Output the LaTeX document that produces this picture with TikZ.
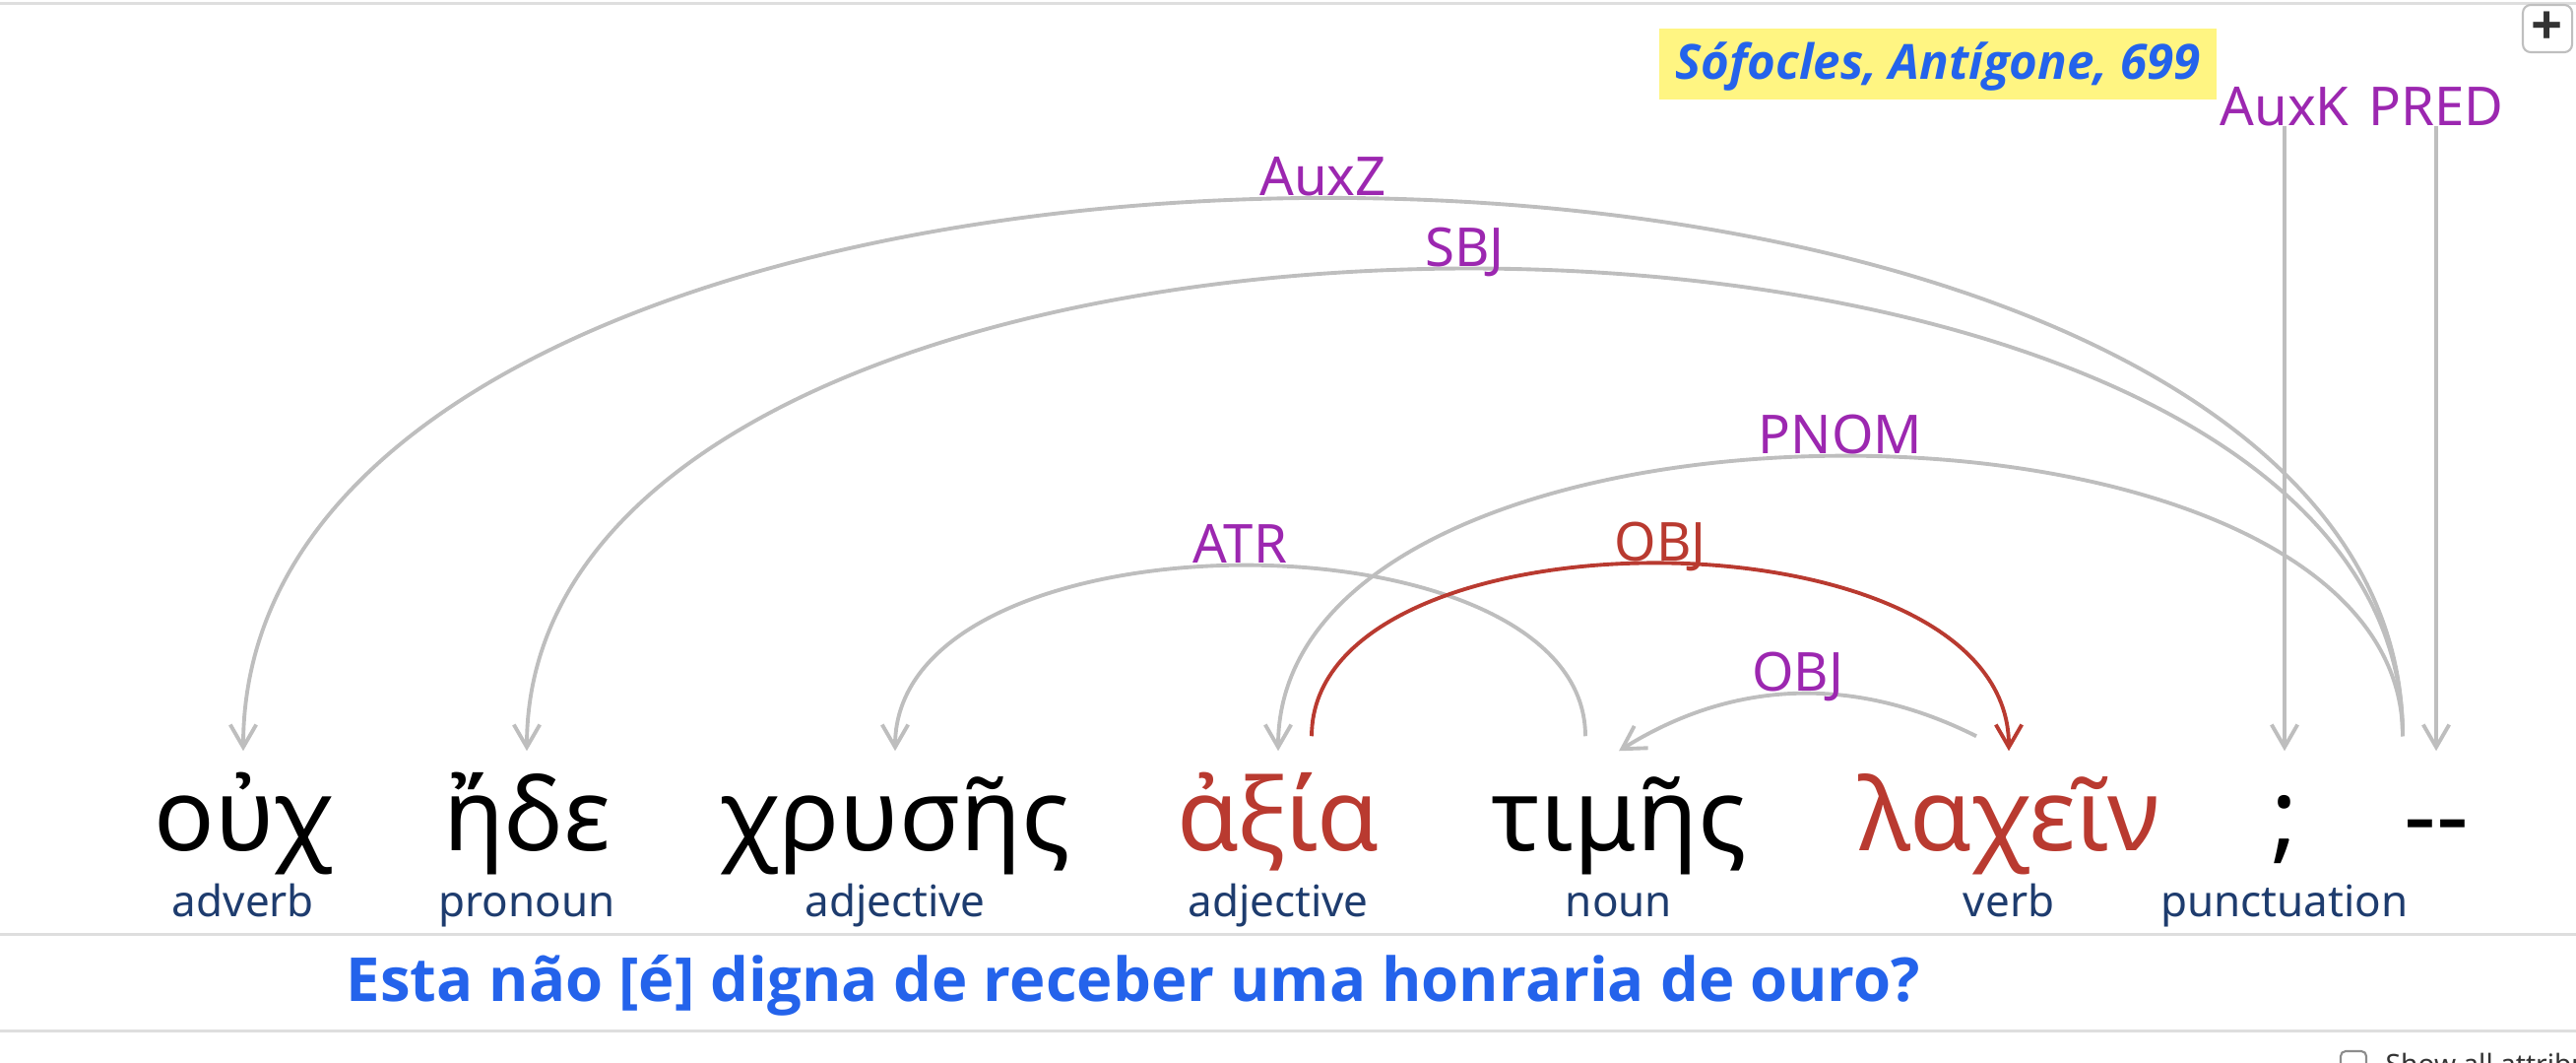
\documentclass[tikz,border=0pt]{standalone}
\usepackage{fontspec}
\setmainfont{Noto Sans}
\newfontfamily\opensans{Open Sans}
\usepackage{color}
\usetikzlibrary{arrows.meta}

\definecolor{arcgray}{RGB}{190,190,190}
\definecolor{linegray}{RGB}{222,222,222}
\definecolor{relpurple}{RGB}{156,39,176}
\definecolor{wordred}{RGB}{185,58,48}
\definecolor{posblue}{RGB}{30,60,110}
\definecolor{titleblue}{RGB}{36,99,235}
\definecolor{titleyellow}{RGB}{255,245,130}

\begin{document}
\begin{tikzpicture}[x=0.01cm, y=-0.01cm,
                word/.style={anchor=base, inner sep=0pt, text height=1cm, font=\fontsize{29}{32}\selectfont},
                postag/.style={anchor=base, inner sep=0pt, text=posblue, font=\fontsize{12.5}{14}\selectfont},
                lbl/.style={anchor=base, inner sep=0pt, yshift=0.3mm, text=relpurple, font=\fontsize{15.5}{17}\selectfont},
                dep/.style={draw=arcgray, line width=1.1pt, -{Straight Barb[length=6.5pt, width=7.5pt]}},
                hrule/.style={draw=linegray, line width=0.85pt}]
                \useasboundingbox (0,0) rectangle (2616,1078);
                \clip (0,0) rectangle (2616,1078);
                \draw[hrule] (0,3) -- (2616,3);
                \draw[hrule] (0,948) -- (2616,948);
                \draw[hrule] (0,1046) -- (2616,1046);

                \node[anchor=base, inner sep=0pt, fill=titleyellow, text=titleblue, text height=0.51cm, text depth=0.21cm, minimum width=5.66cm, font=\opensans\bfseries\itshape\fontsize{14}{16}\selectfont] (source) at (1968,80) {Sófocles, Antígone, 699};
                \node[draw=black!25, rounded corners=0.08cm, line width=0.6pt, minimum width=0.5cm, minimum height=0.48cm, inner sep=0pt, text=black!80, font=\opensans\bfseries\fontsize{16}{16}\selectfont] (plus) at (2587,29) {+};

                \node[word] (ouch) at (247,863) {οὐχ};
                \node[word] (ede) at (535,863) {ἤδε};
                \node[word] (chrys) at (909,863) {χρυσῆς};
                \node[word, text=wordred] (axia) at (1298,863) {ἀξία};
                \node[word] (tim) at (1644,863) {τιμῆς};
                \node[word, text=wordred] (lach) at (2040,863) {λαχεῖν};
                \node[word] (semi) at (2320,863) {;};
                \node[word] (dash) at (2474,863) {-{}-};

                \node[postag] (ouchpos) at (247,930) {adverb};
                \node[postag] (edepos) at (535,930) {pronoun};
                \node[postag] (chryspos) at (909,930) {adjective};
                \node[postag] (axiapos) at (1298,930) {adjective};
                \node[postag] (timpos) at (1644,930) {noun};
                \node[postag] (lachpos) at (2040,930) {verb};
                \node[postag] (semipos) at (2320,930) {punctuation};

                \node[lbl] (auxk) at (2320,130) {AuxK};
                \node[lbl] (pred) at (2474,130) {PRED};
                \draw[dep] (auxk.south) -- (semi.north);
                \draw[dep] (pred.south) -- (dash.north);

                \draw[dep] ([xshift=-3.4mm,yshift=1.5mm]dash.north) .. controls +(0,-730) and +(0,-745) .. (ouch.north) node[lbl, midway] {AuxZ};
                \draw[dep] ([xshift=-3.4mm,yshift=1.5mm]dash.north) .. controls +(0,-634) and +(0,-650) .. (ede.north) node[lbl, midway] {SBJ};
                \draw[dep] ([xshift=-3.4mm,yshift=1.5mm]dash.north) .. controls +(0,-381) and +(0,-396) .. (axia.north) node[lbl, midway] {PNOM};
                \draw[dep] ([xshift=-3.4mm,yshift=1.5mm]tim.north) .. controls +(0,-233) and +(0,-248) .. (chrys.north) node[lbl, midway] {ATR};
                \draw[dep, draw=wordred] ([xshift=3.4mm,yshift=1.5mm]axia.north) .. controls +(0,-236) and +(0,-251) .. (lach.north) node[lbl, midway, text=wordred] {OBJ};
                \draw[dep] ([xshift=-3.3mm,yshift=1.5mm]lach.north) .. controls +(-120,-60) and +(120,-75) .. (tim.north) node[lbl, midway] {OBJ};

                \node[anchor=base, inner sep=0pt, text=titleblue, font=\opensans\bfseries\fontsize{17.5}{20}\selectfont] (transl) at (1151,1016) {Esta não [é] digna de receber uma honraria de ouro?};

                \node[draw=black!45, rounded corners=0.05cm, line width=0.6pt, minimum size=0.26cm, inner sep=0pt] (showbox) at (2390,1080) {};
                \node[anchor=base west, inner sep=0pt, text=black!80, font=\fontsize{8}{10}\selectfont] (showall) at (2422,1090) {Show all attributes};
                \end{tikzpicture}
\end{document}
